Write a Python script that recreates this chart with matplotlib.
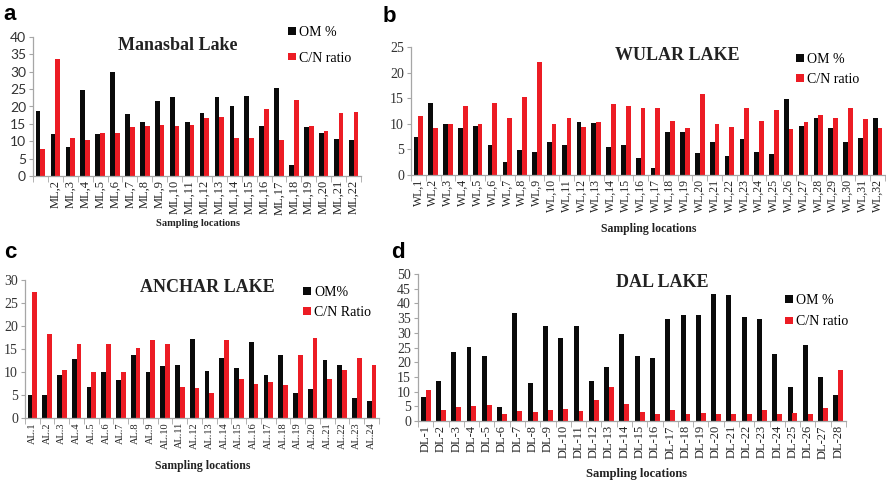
import numpy as np
import matplotlib
matplotlib.use("Agg")
import matplotlib.pyplot as plt
from matplotlib.font_manager import FontProperties

# ---- data ----
ml_labels = [""] + ["ML,%d" % i for i in range(2, 23)]
ml_om = [18.7, 12.0, 8.4, 24.8, 12.0, 29.8, 17.7, 15.6, 21.7, 22.6, 15.6,
         18.0, 22.7, 20.1, 23.0, 14.4, 25.2, 3.3, 14.2, 12.3, 10.6, 10.3]
ml_cn = [7.9, 33.7, 11.0, 10.5, 12.4, 12.4, 14.0, 14.4, 14.8, 14.4, 14.7,
         16.8, 17.0, 10.8, 11.0, 19.4, 10.5, 22.0, 14.4, 12.9, 18.0, 18.4]

wl_labels = ["WL,%d" % i for i in range(1, 33)]
wl_om = [7.5, 14.0, 9.9, 9.2, 9.6, 5.9, 2.5, 4.8, 4.4, 6.5, 5.9, 10.4, 10.1,
         5.4, 5.8, 3.4, 1.3, 8.4, 8.4, 4.2, 6.5, 3.8, 7.0, 4.5, 4.1, 14.9,
         9.5, 11.2, 9.1, 6.5, 7.3, 11.2]
wl_cn = [11.5, 9.1, 9.9, 13.4, 10.0, 14.1, 11.2, 15.3, 22.0, 10.0, 11.2, 9.4,
         10.3, 13.9, 13.4, 13.0, 13.0, 10.6, 9.1, 15.8, 9.9, 9.4, 13.0, 10.6,
         12.7, 8.9, 10.3, 11.8, 11.2, 13.0, 11.0, 9.1]

al_labels = ["AL.%d" % i for i in range(1, 25)]
al_om = [5.1, 4.9, 9.3, 12.9, 6.7, 10.0, 8.3, 13.6, 10.1, 11.4, 11.6, 17.1,
         10.3, 13.1, 10.9, 16.6, 9.4, 13.7, 5.4, 6.4, 12.6, 11.5, 4.3, 3.8]
al_cn = [27.3, 18.2, 10.5, 16.1, 10.1, 16.1, 10.1, 15.2, 17.0, 16.1, 6.7, 6.5,
         5.4, 17.0, 8.4, 7.3, 7.8, 7.2, 13.7, 17.3, 8.5, 10.4, 13.0, 11.5]

dl_labels = ["DL-%d" % i for i in range(1, 29)]
dl_om = [8.2, 13.6, 23.6, 25.2, 22.1, 4.9, 36.6, 13.0, 32.3, 28.2, 32.3, 13.5,
         18.3, 29.5, 22.0, 21.4, 34.6, 36.1, 36.1, 43.1, 42.9, 35.4, 34.6,
         22.7, 11.6, 25.9, 15.1, 8.8]
dl_cn = [10.7, 3.6, 4.9, 5.2, 5.4, 2.3, 3.4, 3.1, 3.6, 4.2, 3.4, 7.3, 11.7,
         5.9, 3.1, 2.5, 3.6, 2.3, 2.6, 2.3, 2.5, 2.3, 3.9, 2.3, 2.6, 2.3, 4.5,
         17.2]

W, H = 887, 486
BLACK = "#0a0a0a"
RED = "#ec1c24"
SERIF = "Liberation Serif"

fig = plt.figure(figsize=(W / 100, H / 100), dpi=100)


def px_axes(x0, y0, x1, y1):
    # pixel box (top-left origin) -> figure axes
    return fig.add_axes([x0 / W, 1 - y1 / H, (x1 - x0) / W, (y1 - y0) / H])


def panel(ax, labels, om, cn, ymax, tick_font, tick_size, label_size,
          om_label, cn_label):
    n = len(labels)
    x = np.arange(n)
    w = 0.32
    b1 = ax.bar(x - w / 2, om, w, color=BLACK, label=om_label)
    b2 = ax.bar(x + w / 2, cn, w, color=RED, label=cn_label)
    ax.set_xlim(-0.5, n - 0.5)
    ax.set_ylim(0, ymax)
    ax.set_yticks(np.arange(0, ymax + 1, 5))
    for s in ["top", "right"]:
        ax.spines[s].set_visible(False)
    for s in ["left", "bottom"]:
        ax.spines[s].set_color("#a6a6a6")
        ax.spines[s].set_linewidth(0.9)
    ax.set_xticks(x)
    ax.set_xticklabels(labels, rotation=90, fontsize=label_size,
                       family=SERIF, color="#222222")
    ax.set_xticks(np.arange(-0.5, n, 1), minor=True)
    ax.tick_params(axis="x", which="major", length=0, pad=3)
    ax.tick_params(axis="x", which="minor", length=4, color="#a6a6a6")
    ax.tick_params(axis="y", length=3, color="#a6a6a6", pad=2,
                   labelsize=tick_size, labelcolor="#333333")
    for t in ax.get_yticklabels():
        t.set_family(tick_font)
    return b1, b2


def legend(ax, handles, px, py, gap):
    ax.legend(handles=handles, loc="upper left",
              bbox_to_anchor=(px / W, 1 - py / H), bbox_transform=fig.transFigure,
              frameon=False, handlelength=0.6, handleheight=0.45,
              handletextpad=0.2, borderpad=0, borderaxespad=0,
              labelspacing=gap, prop=FontProperties(family=SERIF, size=10))


# (a) Manasbal
ax_a = px_axes(33, 37, 361, 176)
h = panel(ax_a, ml_labels, ml_om, ml_cn, 40, "Lato", 10, 9, "OM %", "C/N ratio")
legend(ax_a, h, 288, 26, 0.9)
fig.text(178 / W, 1 - 46 / H, "Manasbal Lake", ha="center", va="center",
         family=SERIF, weight="bold", fontsize=13, color="#222222")
fig.text(198 / W, 1 - 223 / H, "Sampling locations", ha="center", va="center",
         family=SERIF, weight="bold", fontsize=7.5, color="#222222")

# (b) Wular
ax_b = px_axes(411, 47, 885, 175)
h = panel(ax_b, wl_labels, wl_om, wl_cn, 25, SERIF, 10, 8.5, "OM %", "C/N ratio")
legend(ax_b, h, 796, 53, 0.5)
fig.text(677 / W, 1 - 56 / H, "WULAR LAKE", ha="center", va="center",
         family=SERIF, weight="bold", fontsize=13, color="#222222")
fig.text(649 / W, 1 - 229 / H, "Sampling locations", ha="center", va="center",
         family=SERIF, weight="bold", fontsize=8.5, color="#222222")

# (c) Anchar
ax_c = px_axes(25, 280, 379, 418)
h = panel(ax_c, al_labels, al_om, al_cn, 30, SERIF, 10, 7.5, "OM%", "C/N Ratio")
legend(ax_c, h, 303, 286, 0.5)
fig.text(207 / W, 1 - 288 / H, "ANCHAR LAKE", ha="center", va="center",
         family=SERIF, weight="bold", fontsize=13, color="#222222")
fig.text(203 / W, 1 - 466 / H, "Sampling locations", ha="center", va="center",
         family=SERIF, weight="bold", fontsize=8.5, color="#222222")

# (d) Dal
ax_d = px_axes(418, 274, 846, 421)
h = panel(ax_d, dl_labels, dl_om, dl_cn, 50, SERIF, 10, 9, "OM %", "C/N ratio")
legend(ax_d, h, 785, 294, 0.6)
fig.text(662 / W, 1 - 282 / H, "DAL LAKE", ha="center", va="center",
         family=SERIF, weight="bold", fontsize=13, color="#222222")
fig.text(636 / W, 1 - 474 / H, "Sampling locations", ha="center", va="center",
         family=SERIF, weight="bold", fontsize=9, color="#222222")

# panel letters
for letter, lx, ly in [("a", 3, 14), ("b", 383, 16), ("c", 4, 252), ("d", 391, 252)]:
    fig.text(lx / W, 1 - ly / H, letter, ha="left", va="center",
             family="Liberation Sans", weight="bold", fontsize=16)

fig.savefig("out.png", dpi=100)
